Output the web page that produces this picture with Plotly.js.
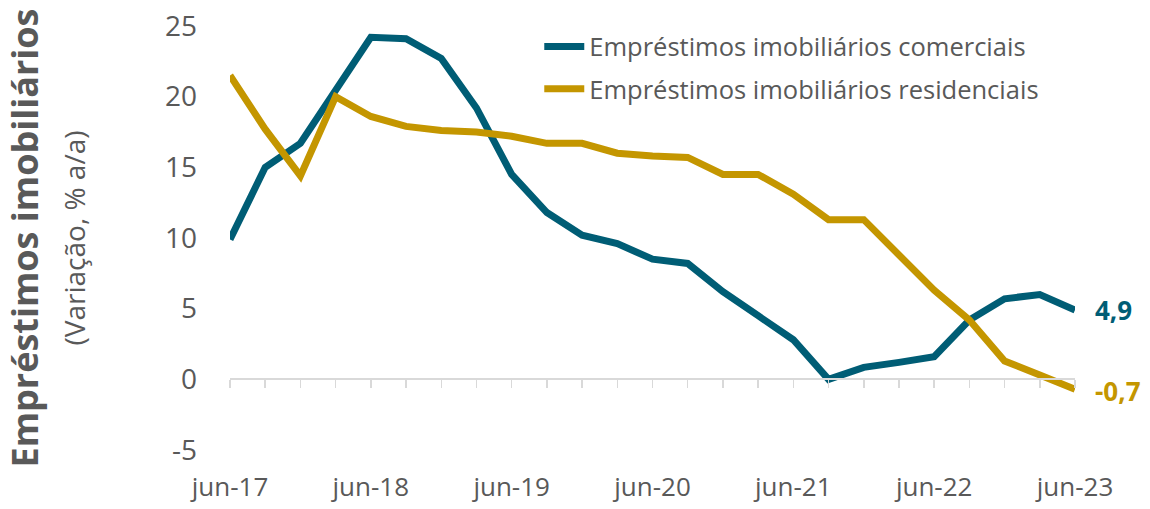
<!DOCTYPE html>
<html>
<head>
<meta charset="utf-8">
<script src="https://cdn.plot.ly/plotly-3.0.1.min.js"></script>
<style>html,body{margin:0;padding:0;background:#fff;}#chart{width:1150px;height:509px;}</style>
</head>
<body>
<div id="chart"></div>
<script>
const quarters = ["jun-17","set-17","dez-17","mar-18","jun-18","set-18","dez-18","mar-19","jun-19","set-19","dez-19","mar-20","jun-20","set-20","dez-20","mar-21","jun-21","set-21","dez-21","mar-22","jun-22","set-22","dez-22","mar-23","jun-23"];
const comerciais = [9.9,15.0,16.7,20.5,24.2,24.1,22.7,19.2,14.5,11.8,10.2,9.6,8.5,8.2,6.2,4.5,2.8,0.0,0.85,1.2,1.6,4.2,5.7,6.0,4.9];
const residenciais = [21.5,17.7,14.4,20.0,18.6,17.9,17.6,17.5,17.2,16.7,16.7,16.0,15.8,15.7,14.5,14.5,13.1,11.3,11.3,8.8,6.3,4.2,1.3,0.3,-0.7];
const seriesNames = ["Empréstimos imobiliários comerciais","Empréstimos imobiliários residenciais"];
const endLabels = ["4,9","-0,7"];
const yTickVals = [-5,0,5,10,15,20,25];
const yTickText = ["-5","0","5","10","15","20","25"];
const colors = ["#005d75","#c49600"];

const xIdx = quarters.map((q, i) => i);
const tickIdx = xIdx.filter(i => quarters[i].startsWith("jun"));
const tickText = tickIdx.map(i => quarters[i]);
const font = "Open Sans, Noto Sans, sans-serif";

const traces = [comerciais, residenciais].map((vals, k) => ({
  type: "scatter", mode: "lines", x: xIdx, y: vals, name: seriesNames[k], legendgroup: "g" + k,
  line: {color: colors[k], width: 7, shape: "linear"}, cliponaxis: false
}));

const last = xIdx.length - 1;
const layout = {
  width: 1150, height: 509,
  margin: {l: 230, r: 75, t: 26, b: 59},
  paper_bgcolor: "#fff", plot_bgcolor: "#fff",
  font: {family: font, color: "#595959"},
  showlegend: true,
  legend: {x: 0.366, y: 1.006, xanchor: "left", yanchor: "top", bgcolor: "rgba(0,0,0,0)",
    font: {size: 25.5, color: "#595959", family: font}, tracegroupgap: 6, itemwidth: 40},
  xaxis: {
    range: [0, last], anchor: "free", position: 5/30,
    tickvals: tickIdx, ticktext: tickText, tickfont: {size: 26, color: "#595959"},
    ticks: "outside", ticklen: 8, tickcolor: "#d9d9d9", tickwidth: 1.5,
    minor: {dtick: 1, tick0: 0, ticks: "outside", ticklen: 8, tickcolor: "#d9d9d9", tickwidth: 1.5, showgrid: false},
    showline: true, linecolor: "#d9d9d9", linewidth: 2,
    showgrid: false, zeroline: false, ticklabelstandoff: 76
  },
  yaxis: {
    range: [-5, 25], tickvals: yTickVals, ticktext: yTickText,
    showgrid: false, zeroline: false, showline: false,
    tickfont: {size: 28, color: "#595959"}, ticks: "", ticklabelstandoff: 32,
    title: {text: "<b>Empréstimos imobiliários</b><br><span style='font-size:28px'>(Variação, % a/a)</span>",
      font: {size: 36, color: "#595959"}, standoff: 72}
  },
  annotations: [comerciais, residenciais].map((vals, k) => ({
    x: last, y: vals[last], xref: "x", yref: "y", text: "<b>" + endLabels[k] + "</b>",
    showarrow: false, xanchor: "left", yanchor: "middle", xshift: 18, yshift: k === 1 ? -2 : 0,
    font: {size: 26, color: colors[k], family: font}
  }))
};
Plotly.newPlot("chart", traces, layout, {displayModeBar: false, staticPlot: true});
</script>
</body>
</html>
